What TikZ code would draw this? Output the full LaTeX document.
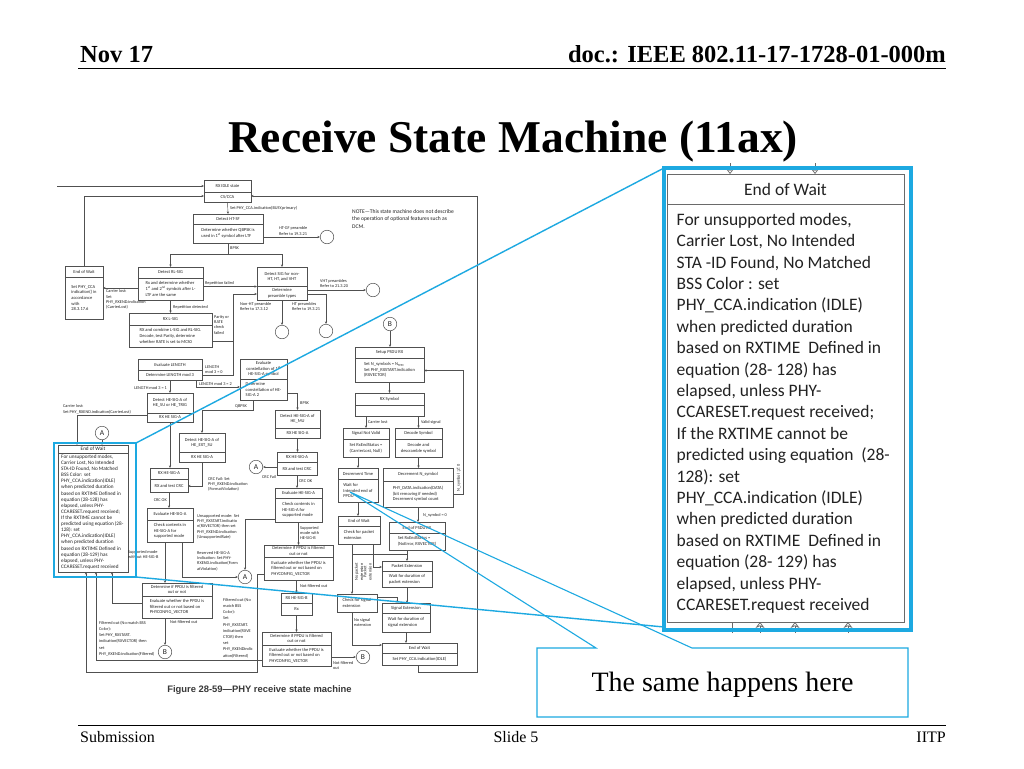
\documentclass[tikz,border=0pt]{standalone}
\usepackage{fontspec}
\setmainfont{Liberation Serif}
\newfontfamily\carlito{Carlito}
\newfontfamily\arialf{Liberation Sans}
\usetikzlibrary{arrows.meta,calc}
\definecolor{fc}{HTML}{505050}
\definecolor{ft}{HTML}{222222}
\definecolor{cblue}{HTML}{1DA9E1}
\definecolor{bgray}{HTML}{6A6A6A}
\newcommand{\mybox}[9]{%
  \pgfmathsetmacro{\bxw}{#4-#2}%
  \pgfmathsetmacro{\bxh}{#5-#3}%
  \pgfmathsetmacro{\bxcx}{(#2+#4)/2}%
  \pgfmathsetmacro{\bxcy}{(#3+#5)/2}%
  \pgfmathsetmacro{\bxhy}{(#3+#6)/2}%
  \pgfmathsetmacro{\bxby}{(#6+#5)/2}%
  \node[box, minimum width=\bxw pt, minimum height=\bxh pt] (#1) at (\bxcx,\bxcy) {};
  \draw[ln] (#2,#6) -- (#4,#6);
  \node[hdr] (#1h) at (\bxcx,\bxhy) {#7};
  \node[bdy, align=#9] (#1b) at (\bxcx,\bxby) {#8};
}
\begin{document}
\begin{tikzpicture}[x=1pt,y=-1pt,
  box/.style={draw=fc,line width=0.45pt,inner sep=0pt,outer sep=0pt,fill=white},
  hdr/.style={font={\carlito\fontsize{4.5}{5.4}\selectfont},text=ft,align=center,inner sep=0pt},
  bdy/.style={font={\carlito\fontsize{4.5}{5.7}\selectfont},text=ft,inner sep=0pt},
  ln/.style={draw=fc,line width=0.45pt},
  arr/.style={ln,-{Stealth[length=2.6pt,width=2.2pt]}},
  lbl/.style={font={\carlito\fontsize{4.3}{5.4}\selectfont},text=ft,inner sep=0pt,align=left},
  lblw/.style={font={\carlito\fontsize{4.3}{6.2}\selectfont},text=ft,inner sep=0pt,align=left},
  circ/.style={circle,draw=fc,line width=0.5pt,minimum size=13.5pt,inner sep=0pt,fill=white,text=ft,font={\carlito\fontsize{7.5}{8}\selectfont}},
  bigarr/.style={draw=bgray,line width=0.7pt,-{Stealth[length=6pt,width=9pt,open]}},
]
\fill[white] (0,0) rectangle (1024,768);
\useasboundingbox (0,0) rectangle (1024,768);

% ---------- slide frame ----------
\node[anchor=base west,inner sep=0,font=\bfseries\fontsize{24.5}{28}\selectfont] (hdate) at (80,63) {Nov 17};
\node[anchor=base east,inner sep=0,font=\bfseries\fontsize{24.5}{28}\selectfont] (hdoc) at (946,63) {doc.: IEEE 802.11-17-1728-01-000m};
\draw[line width=1pt] (78,68.5) -- (946,68.5);
\node[anchor=base,inner sep=0,font=\bfseries\fontsize{45.5}{50}\selectfont] (title) at (513,152) {Receive State Machine (11ax)};
\draw[line width=0.8pt] (78,725) -- (946,725);
\node[anchor=base west,inner sep=0,font=\fontsize{16}{18}\selectfont] (fsub) at (80,742) {Submission};
\node[anchor=base,inner sep=0,font=\fontsize{16}{18}\selectfont] (fslide) at (516,742) {Slide 5};
\node[anchor=base east,inner sep=0,font=\fontsize{16}{18}\selectfont] (fiitp) at (946,742) {IITP};

% ---------- flowchart boxes ----------
\mybox{idle}{204}{180}{251}{202}{192}{RX IDLE state}{CS/CCA}{center}
\mybox{hesf}{193}{214}{263}{243}{224}{Detect HT-SF}{Determine whether QBPSK is\\used in 1\textsuperscript{st} symbol after LTF}{left}
\mybox{eowa}{65}{266}{103}{319}{277}{End of Wait}{Set PHY\_CCA\\indication() in\\accordance\\with\\28.3.17.6}{left}
\mybox{rlsig}{138}{267}{203}{300}{278}{Detect RL-SIG}{Rx and determine whether\\1\textsuperscript{st} and 2\textsuperscript{nd} symbols after L-\\LTF are the same}{left}
\mybox{sig}{257}{267}{307}{300}{286}{Detect SIG for non-\\HT, HT, and VHT}{Determine\\preamble types}{center}
\mybox{lsig}{129}{313}{212}{347}{325}{RX L-SIG}{RX and combine L-SIG and RL-SIG.\\Decode, test Parity, determine\\whether RATE is set to MCS0}{left}
\mybox{len}{138}{359}{202}{380}{370}{Evaluate LENGTH}{Determine LENGTH mod 3}{center}
\mybox{con}{240}{359}{287}{400}{379}{Evaluate\\constellation of 1\textsuperscript{st}\\HE-SIG-A symbol}{Determine\\constellation of HE-\\SIG-A 2}{left}
\mybox{hesu}{147}{393}{193}{422}{413}{Detect HE-SIG-A of\\HE\_SU or HE\_TRIG}{RX HE SIG-A}{center}
\mybox{heext}{179}{433}{225}{462}{452}{Detect HE-SIG-A of\\HE\_EXT\_SU}{RX HE SIG-A}{center}
\mybox{hemu}{275}{410}{320}{438}{428}{Detect HE-SIG-A of\\HE\_MU}{RX HE SIG-A}{center}
\mybox{rxaa}{150}{468}{188}{492}{479}{RX HE-SIG-A}{RX and test CRC}{center}
\mybox{rxab}{277}{452}{317}{475}{462}{RX HE-SIG-A}{RX and test CRC}{center}
\mybox{evaa}{147}{508}{193}{542}{520}{Evaluate HE-SIG-A}{Check contents in\\HE-SIG-A for\\supported mode}{left}
\mybox{evab}{275}{488}{322}{522}{498}{Evaluate HE-SIG-A}{Check contents in\\HE-SIG-A for\\supported mode}{left}
\mybox{ppa}{142}{583}{212}{618}{596}{Determine if PPDU is filtered\\out or not}{Evaluate whether the PPDU is\\filtered out or not based on\\PHYCONFIG\_VECTOR}{left}
\mybox{ppb}{264}{545}{333}{580}{557}{Determine if PPDU is filtered\\out or not}{Evaluate whether the PPDU is\\filtered out or not based on\\PHYCONFIG\_VECTOR}{left}
\mybox{rxb}{281}{593}{312}{615}{603}{RX HE-SIG-B}{Rx}{center}
\mybox{ppc}{262}{632}{331}{666}{645}{Determine if PPDU is filtered\\out or not}{Evaluate whether the PPDU is\\filtered out or not based on\\PHYCONFIG\_VECTOR}{left}
\mybox{psdu}{355}{347}{424}{382}{358}{Setup PSDU RX}{Set N\_symbols = N\textsubscript{SYM}\\Set PHY\_RXSTART.indication\\(RXVECTOR)}{left}
\node[box,minimum width=69pt,minimum height=23pt] (rxsym) at (389.5,404.5) {};
\draw[ln] (355,405) -- (424,405);
\node[hdr] (rxsymh) at (389.5,399) {RX Symbol};
\mybox{snv}{343}{428}{389}{457}{439}{Signal Not Valid}{Set RxEndStatus =\\(CarrierLost, Null)}{left}
\mybox{dec}{395}{428}{442}{457}{439}{Decode Symbol}{Decode and\\descramble symbol}{center}
\mybox{dtime}{338}{468}{378}{502}{479}{Decrement Time}{Wait for\\Intended end of\\PPDU}{left}
\mybox{dnsym}{383}{468}{453}{507}{481}{Decrement N\_symbol}{PHY\_DATA.indication(DATA)\\(bit removing if needed)\\Decrement symbol count}{left}
\mybox{epsdu}{389}{522}{445}{550}{533}{End of PSDU RX}{Set RxEndStatus =\\(NoError, RXVECTOR)}{left}
\mybox{eowb}{338}{516}{380}{544}{526}{End of Wait}{Check for packet\\extension}{left}
\mybox{pext}{382}{561}{432}{587}{571}{Packet Extension}{Wait for duration of\\packet extension}{left}
\mybox{sext}{382}{603}{430}{632}{613}{Signal Extension}{Wait for duration of\\signal extension}{left}
\mybox{eowc}{382}{643}{457}{665}{653}{End of Wait}{Set PHY\_CCA.indication(IDLE)}{left}
\node[box,minimum width=40pt,minimum height=18pt,align=left,font={\carlito\fontsize{4.5}{5.4}\selectfont},text=ft] (chk) at (357,603) {Check for signal\\extension};

% small End of Wait (highlighted)
\node[box,minimum width=70pt,minimum height=127pt] (eows) at (93,508.5) {};
\draw[ln] ([yshift=-8pt]eows.north west) -- ([yshift=-8pt]eows.north east);
\node[font={\carlito\fontsize{5.2}{6}\selectfont},text=ft,inner sep=0] (eowsh) at ($(eows.north)+(0,4)$) {End of Wait};
\node[anchor=north west,inner sep=0,align=left,text=ft,font={\carlito\fontsize{5.2}{6.12}\selectfont}] (eowst) at ($(eows.north west)+(3,9.5)$) {For unsupported modes,\\Carrier Lost, No Intended\\STA-ID Found, No Matched\\BSS Color: set\\PHY\_CCA.indication(IDLE)\\when predicted duration\\based on RXTIME Defined in\\equation (28-128) has\\elapsed, unless PHY-\\CCARESET.request received;\\If the RXTIME cannot be\\predicted using equation (28-\\128): set\\PHY\_CCA.indication(IDLE)\\when predicted duration\\based on RXTIME Defined in\\equation (28-129) has\\elapsed, unless PHY-\\CCARESET.request received};

% circles
\node[circ] (cgf) at (327,237) {};
\node[circ] (cvht) at (373,290) {};
\node[circ] (cnht) at (282,332) {};
\node[circ] (cht) at (326,331) {};
\node[circ] (bt) at (390,324) {B};
\node[circ] (aa) at (102,433) {A};
\node[circ] (ab) at (256,467) {A};
\node[circ] (ac) at (245,577) {A};
\node[circ] (ba) at (165,652) {B};
\node[circ] (bb) at (363,657) {B};

% ---------- connectors ----------
\coordinate (lin) at (57,186);
\path ([yshift=5pt]idle.west) coordinate (iwu);
\draw[arr] (lin) -- (lin -| iwu);
\path ([yshift=-5pt]idle.west) coordinate (iw);
\draw[arr] (eowa.north) |- (iw);
\draw[arr] (idle.south) -- (hesf.north);
\node[lbl,anchor=west] (t1) at (230,208) {Set PHY\_CCA.indication(BUSY,primary)};
\draw[arr] (hesf.east |- cgf) -- (cgf.west);
\node[lbl,anchor=south west] (t2) at (279,235.5) {HT-GF preamble\\Refer to 19.3.21};
\coordinate (sp1) at ($(hesf.south)+(0,11)$);
\draw[ln] (hesf.south) -- (sp1);
\draw[arr] (sp1) -| (rlsig.north);
\draw[arr] (sp1) -| (sig.north);
\node[lbl,anchor=west] (t3) at (230,248) {BPSK};
\path ([yshift=-3pt]rlsig.east) coordinate (rf);
\draw[arr] (rf) -- (rf -| sig.west);
\node[lbl,anchor=south west] (t4) at (205,285) {Repetition failed};
\path ([yshift=-4.5pt]rlsig.west) coordinate (cl);
\draw[arr] (cl) -- (cl -| eowa.east);
\node[lbl,anchor=north west] (t5) at (106,289.5) {Carrier lost:\\Set\\PHY\_RXEND.indication\\(CarrierLost)};
\draw[arr] (rlsig.south) -- (lsig.north);
\node[lbl,anchor=west] (t6) at (173,307) {Repetition detected};
\draw[arr] (sig.east |- cvht) -- (cvht.west);
\node[lbl,anchor=south west] (t7) at (320,288) {VHT preambles\\Refer to 21.3.20};
\path ([yshift=-10.5pt]sig.east) coordinate (ht1);
\draw[arr] (ht1) -| (cht.north);
\node[lbl,anchor=north west] (t8) at (292,302) {HT preambles\\Refer to 19.3.21};
\draw[arr] (sig.south) -- (cnht.north);
\node[lbl,anchor=north west] (t9) at (240,302) {Non-HT preamble\\Refer to 17.3.12};
\path ([yshift=-11pt]lsig.east) coordinate (pf);
\path ([yshift=-10.5pt]sig.west) coordinate (pin);
\coordinate (colp) at ($(pf)+(21,0)$);
\draw[arr] (pf) -- (colp) |- (pin);
\node[lbl,anchor=north west] (t10) at (214,315) {Parity or\\RATE\\check\\failed};
\path ([yshift=-6pt]len.east) coordinate (lf);
\draw[ln] (lf) -- (lf -| colp) -- (colp);
\node[lbl,anchor=south west] (t11) at (205,374) {LENGTH\\mod 3 = 0};
\draw[arr] (len.south) -- (hesu.north);
\node[lbl,anchor=east] (t12) at (167,388) {LENGTH mod 3 = 1};
\path ([xshift=-6pt]len.south east) coordinate (l2);
\path ([yshift=-7.5pt]con.west) coordinate (c2);
\draw[arr] (l2) |- (c2);
\node[lbl,anchor=south west] (t13) at (199,385.5) {LENGTH mod 3 = 2};
\path ([xshift=13pt]con.south west) coordinate (q1);
\draw[arr] (q1) -- ++(0,10) -| (heext.north);
\node[lbl,anchor=east] (t14) at (247,406) {QBPSK};
\path ([yshift=-13.5pt]con.east) coordinate (b1);
\draw[arr] (b1) -| (hemu.north);
\node[lbl,anchor=west] (t15) at (300,403) {BPSK};
\draw[arr] (hesu.south) -- (hesu.south |- rxaa.north);
\path ([yshift=-7.5pt]hesu.west) coordinate (hc);
\path ([xshift=-16pt]eows.north) coordinate (ew1);
\draw[arr] (hc) -| (ew1);
\node[lbl,anchor=south west] (t16) at (63,414) {Carrier lost:\\Set PHY\_RXEND.indication(CarrierLost)};
\draw[arr] (aa.south) -- (aa.south |- eows.north);
\path ([yshift=-6pt]rxaa.east) coordinate (re);
\draw[arr] (heext.south) |- (re);
\draw[arr] (hemu.south) -- (hemu.south |- rxab.north);
\draw[arr] (rxab.west |- ab) -- (ab.east);
\node[lbl,anchor=west] (t17) at (262,477) {CRC Fail};
\node[lbl,anchor=north west] (t18) at (208,477) {CRC Fail: Set\\PHY\_RXEND.indication\\(FormatViolation)};
\draw[arr] (rxaa.south) -- (rxaa.south |- evaa.north);
\node[lbl,anchor=east] (t19) at (167,500) {CRC OK};
\draw[arr] (rxab.south) -- (rxab.south |- evab.north);
\node[lbl,anchor=west] (t20) at (299,481) {CRC OK};
\path ([yshift=-14pt]evab.west) coordinate (ue);
\draw[arr] (ue) -| (ac.north);
\node[lbl,anchor=north west] (t21) at (197,514) {Unsupported mode: Set\\PHY\_RXSTART.indicatio\\n(RXVECTOR) then set\\PHY\_RXEND.indication\\(UnsupportedRate)};
\path ([xshift=12pt]evaa.south) coordinate (rs);
\draw[arr] (rs) |- (ac.west);
\node[lbl,anchor=north west] (t22) at (197,551) {Reserved HE-SIG-A\\Indication: Set PHY-\\RXEND.indication(Form\\atViolation)};
\draw[arr] (evaa.south -| ba) -- (ppa.north -| ba);
\node[lbl,anchor=north west] (t23) at (128,550) {Supported mode\\without HE-SIG-B};
\draw[arr] (ppa.south -| ba) -- (ba.north);
\node[lbl,anchor=west] (t24) at (170,622) {Not filtered out};
\path ([yshift=-2.5pt]ppa.west) coordinate (pw);
\draw[arr] (pw) -| ([xshift=19pt]eows.south);
\draw[arr] (evab.south) -- (evab.south |- ppb.north);
\node[lbl,anchor=west] (t25) at (300,533) {Supported\\mode with\\HE-SIG-B};
\draw[arr] (ppb.south -| rxb.north) -- (rxb.north);
\node[lbl,anchor=west] (t26) at (300,586) {Not filtered out};
\draw[arr] (rxb.south) -- (rxb.south |- ppc.north);
\draw[arr] (ppc.east |- bb) -- (bb.west);
\node[lbl,anchor=north west] (t27) at (333,661) {Not filtered\\out};
\path ([yshift=-12pt]ppb.west) coordinate (pb1);
\draw[arr] (pb1) -- ++(-7,0) -- ++(0,97.5) -| ([xshift=-7pt]eows.south);
\path ([yshift=-11pt]ppc.west) coordinate (pc1);
\draw[arr] (pc1) -| ([xshift=3pt]eows.south);
\node[lblw,anchor=north west] (t28) at (99,621) {Filtered out (No match BSS\\Color):\\Set PHY\_RXSTART.\\indication(RXVECTOR) then\\set\\PHY\_RXEND.indication(Filtered)};
\node[lblw,anchor=north west] (t29) at (223,598) {Filtered out (No\\match BSS\\Color):\\Set\\PHY\_RXSTART.\\indication(RXVE\\CTOR) then\\set\\PHY\_RXENDindic\\ation(Filtered)};

% right column
\draw[arr] (bt.south) -- (bt.south |- psdu.north);
\draw[arr] (psdu.south) -- (rxsym.north);
\draw[arr] (rxsym.south -| snv.north) -- (snv.north);
\node[lbl,anchor=west] (t30) at (368,422) {Carrier lost};
\draw[arr] (rxsym.south -| dec.north) -- (dec.north);
\node[lbl,anchor=west] (t31) at (421,422) {Valid signal};
\draw[arr] (snv.south -| dtime.north) -- (dtime.north);
\draw[arr] (dec.south) -- (dec.south |- dnsym.north);
\draw[arr] (dnsym.south) -- (dnsym.south |- epsdu.north);
\node[lbl,anchor=west] (t32) at (423,515) {N\_symbol = 0};
\path ([yshift=-6pt]psdu.east) coordinate (pe);
\path ([yshift=-7pt]dnsym.east) coordinate (de);
\draw[arr] (de) -- ++(10,0) |- (pe);
\node[lbl,rotate=90] (t33) at (458.5,478) {N\_symbol $\neq$ 0};
\draw[arr] (dtime.south) -- (dtime.south |- eowb.north);
\path ([xshift=-7pt]eowb.south) coordinate (e1);
\draw[arr] (e1) -- (e1 |- chk.north);
\path ([xshift=14pt]eowb.south) coordinate (e2);
\path ([yshift=7pt]pext.west) coordinate (pw2);
\draw[arr] (e2) |- (pw2);
\draw[arr] (epsdu.south -| pext.north) -- (pext.north);
\coordinate (j1) at ($(epsdu.south -| pext.north)+(0,4)$);
\draw[ln] (j1) -- (j1 -| e1);
\node[lbl,rotate=90,align=center] (t34) at (359,572) {No packet\\extension};
\node[lbl,rotate=90,align=center] (t35) at (367.5,572) {Packet\\extension};
\path ([yshift=6pt]chk.east) coordinate (ce);
\path ([xshift=-9pt]sext.north) coordinate (sn);
\draw[arr] (ce) -| (sn);
\draw[arr] (pext.south) -- (pext.south |- sext.north);
\path ([xshift=-5pt]chk.south) coordinate (c5);
\path ([yshift=9pt]eowc.west) coordinate (ewc);
\draw[arr] (c5) |- (ewc);
\node[lbl,anchor=north west] (t36) at (354,618) {No signal\\extension};
\draw[arr] (sext.south) -- (sext.south |- eowc.north);
\path ([xshift=-1.5pt]eowc.south) coordinate (ec);
\path ([yshift=-5pt]idle.east) coordinate (ie);
\draw[arr] (ec) -- ++(0,7) -- ++(59,0) |- (ie);

\node[anchor=north west,inner sep=0,align=left,text=ft,font={\carlito\fontsize{5.6}{7.8}\selectfont}] (note) at (352,209) {NOTE—This state machine does not describe\\the operation of optional features such as\\DCM.};
\node[inner sep=0,text=ft!90,font={\arialf\bfseries\fontsize{9.4}{11}\selectfont}] (cap) at (259.5,690) {Figure 28-59—PHY receive state machine};

% ---------- magnified End of Wait ----------
\node[draw=bgray,line width=0.7pt,inner sep=0,outer sep=0,minimum width=237pt,minimum height=448pt,fill=white] (eowbig) at (785.5,398) {};
\draw[bgray,line width=0.7pt] ([yshift=-30pt]eowbig.north west) -- ([yshift=-30pt]eowbig.north east);
\node[inner sep=0,text=ft,font={\carlito\fontsize{17.5}{21}\selectfont}] (eowbigh) at ($(eowbig.north)+(0,15)$) {End of Wait};
\node[anchor=north west,inner sep=0,align=left,text=ft,font={\carlito\fontsize{17.5}{21.4}\selectfont}] (eowbigt) at ($(eowbig.north west)+(9.5,39)$) {For unsupported modes,\\Carrier Lost, No Intended\\STA -ID Found, No Matched\\BSS Color : set\\PHY\_CCA.indication (IDLE)\\when predicted duration\\based on RXTIME\ \ Defined in\\equation (28- 128) has\\elapsed, unless PHY-\\CCARESET.request received;\\If the RXTIME cannot be\\predicted using equation\ \ (28-\\128): set\\PHY\_CCA.indication (IDLE)\\when predicted duration\\based on RXTIME\ \ Defined in\\equation (28- 129) has\\elapsed, unless PHY-\\CCARESET.request received};
\coordinate (ta) at (730,163);
\coordinate (tb) at (815,163);
\draw[bigarr] (ta) -- (ta |- eowbig.north);
\draw[bigarr] (tb) -- (tb |- eowbig.north);
\coordinate (ua) at (732,633);
\coordinate (ub) at (760,633);
\coordinate (uc) at (795,633);
\coordinate (ud) at (848,633);
\draw[draw=bgray,line width=0.7pt] (ua) -- (ua |- eowbig.south);
\draw[bigarr] (ub) -- (ub |- eowbig.south);
\draw[bigarr] (uc) -- (uc |- eowbig.south);
\draw[bigarr] (ud) -- (ud |- eowbig.south);

% ---------- blue highlight and callouts ----------
\node[draw=cblue,line width=3.5pt,inner sep=0,outer sep=0,minimum width=247pt,minimum height=462pt] (zbig) at (787.5,399) {};
\node[draw=cblue,line width=2.8pt,inner sep=0,outer sep=0,minimum width=82pt,minimum height=134pt] (zsmall) at (95,510) {};
\draw[cblue,line width=1.4pt] (zsmall.north east) -- (zbig.north west);
\draw[cblue,line width=1.4pt] (zsmall.south east) -- ([yshift=3pt]zbig.south west);
\node[inner sep=0,outer sep=0,minimum width=371pt,minimum height=69pt,font=\fontsize{28}{30}\selectfont] (same) at (722.5,682.5) {};
\node[inner sep=0,font=\fontsize{28}{30}\selectfont] (samet) at (722.5,685) {The same happens here};
\path ([xshift=-8pt,yshift=-7pt]dtime.center) coordinate (tip);
\draw[cblue,line width=1.1pt,line join=miter] (same.north west) -- ([xshift=59pt]same.north west) -- (tip) -- ([xshift=155pt]same.north west) -- (same.north east) -- (same.south east) -- (same.south west) -- cycle;
\end{tikzpicture}
\end{document}
